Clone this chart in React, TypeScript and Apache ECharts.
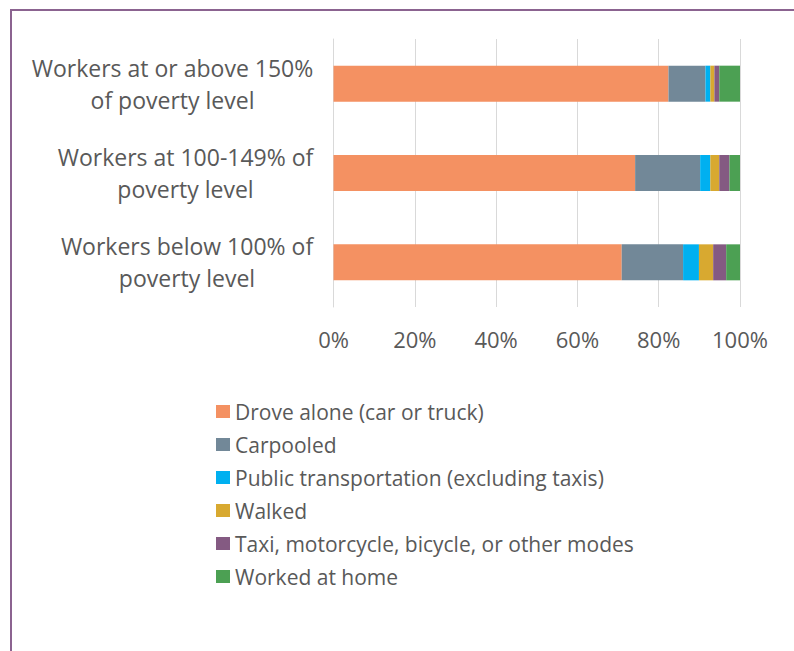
import React, { useEffect, useRef } from "react";
import * as echarts from "echarts";

const categories = [
  "Workers at or above 150%\nof poverty level",
  "Workers at 100-149% of\npoverty level",
  "Workers below 100% of\npoverty level",
];
const seriesNames = [
  "Drove alone (car or truck)",
  "Carpooled",
  "Public transportation (excluding taxis)",
  "Walked",
  "Taxi, motorcycle, bicycle, or other modes",
  "Worked at home",
];
const droveAlone = [82.4, 74.2, 70.9];
const carpooled = [9.1, 16.0, 15.1];
const publicTransport = [1.2, 2.5, 3.9];
const walked = [1.0, 2.2, 3.5];
const otherModes = [1.2, 2.5, 3.2];
const workedAtHome = [5.1, 2.6, 3.4];
const xTicks = [0, 20, 40, 60, 80, 100];

const colors = ["#F49162", "#728898", "#00B0F0", "#D8A930", "#845A82", "#4CA053"];
const FONT = '"Open Sans", sans-serif';
const textColor = "#595959";

export default function App() {
  const ref = useRef<HTMLDivElement>(null);
  useEffect(() => {
    document.body.style.margin = "0";
    if (!ref.current) return;
    const chart = echarts.init(ref.current, undefined, { renderer: "svg" });

    const labelSize = 23;
    const canvas = document.createElement("canvas");
    const ctx = canvas.getContext("2d")!;
    ctx.font = `${labelSize}px ${FONT}`;
    const widths = categories.map((c) =>
      Math.ceil(Math.max(...c.split("\n").map((l) => ctx.measureText(l).width)))
    );
    const rich: Record<string, any> = {};
    widths.forEach((w, i) => {
      rich["c" + i] = {
        width: w,
        align: "center",
        fontSize: labelSize,
        fontFamily: FONT,
        color: textColor,
        lineHeight: 32,
      };
    });

    const allData = [droveAlone, carpooled, publicTransport, walked, otherModes, workedAtHome];

    chart.setOption({
      animation: false,
      color: colors,
      textStyle: { fontFamily: FONT },
      graphic: [
        {
          type: "rect",
          shape: { x: 11, y: 10, width: 820, height: 700 },
          style: { fill: "none", stroke: "#8B6390", lineWidth: 2 },
          silent: true,
        },
      ],
      grid: { left: 333.5, right: 54, top: 39, bottom: 344, containLabel: false },
      xAxis: {
        type: "value",
        min: 0,
        max: 100,
        interval: 20,
        axisLine: { show: false },
        axisTick: { show: false },
        splitLine: { lineStyle: { color: "#D9D9D9", width: 1 } },
        axisLabel: {
          formatter: (v: number) => (xTicks.includes(v) ? `${v}%` : ""),
          color: textColor,
          fontSize: 22,
          fontFamily: FONT,
          margin: 21,
        },
      },
      yAxis: {
        type: "category",
        inverse: true,
        data: categories,
        axisLine: { lineStyle: { color: "#D9D9D9", width: 1 } },
        axisTick: { show: false },
        axisLabel: {
          margin: 20,
          formatter: (value: string, idx: number) =>
            value
              .split("\n")
              .map((l) => `{c${idx}|${l}}`)
              .join("\n"),
          rich,
        },
      },
      legend: {
        orient: "vertical",
        left: 211,
        top: 396,
        itemWidth: 14,
        itemHeight: 13,
        itemGap: 12,
        icon: "rect",
        data: seriesNames,
        textStyle: { color: textColor, fontSize: 21, fontFamily: FONT, lineHeight: 21 },
      },
      series: seriesNames.map((name, i) => ({
        name,
        type: "bar",
        stack: "total",
        barWidth: 36,
        data: allData[i],
      })),
    });
    return () => chart.dispose();
  }, []);
  return <div ref={ref} style={{ width: 794, height: 651 }} />;
}
